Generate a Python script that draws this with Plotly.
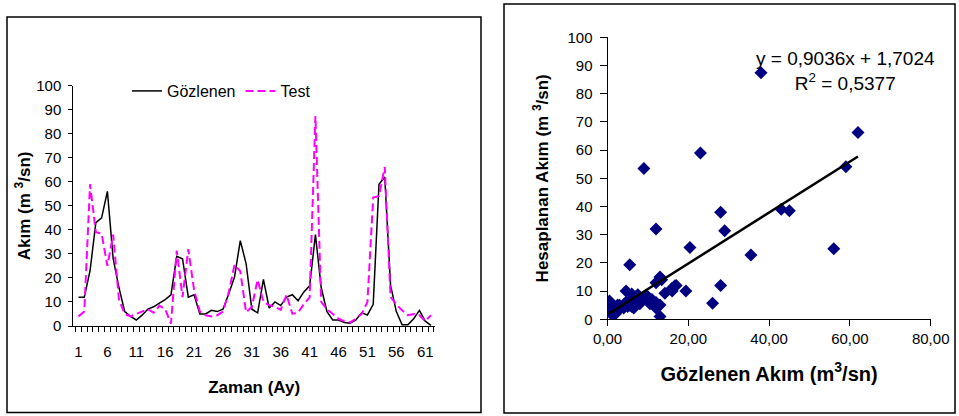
import plotly.graph_objects as go

# ---- data ----
months = list(range(1, 63))
observed = [12, 12, 23, 43, 45, 56, 28, 16, 6, 4,
            2.5, 4.5, 7, 8, 9.5, 11, 13, 29, 28, 12,
            13, 5, 5, 6.5, 6, 7, 13.4, 20.4, 35.5, 26,
            7, 5.5, 19.4, 7.5, 10, 8.5, 12, 13, 10.5, 14.2,
            16.7, 38, 16, 6, 2.5, 2.5, 1.5, 1.2, 2.5, 5.5,
            4.6, 9, 59, 62, 17, 6, 0.5, 0.5, 3, 6.5,
            2, 0.3]
test = [4, 6, 59, 39, 38.5, 25, 38, 11, 5, 4,
        5, 6, 7, 5.5, 8.5, 7, 1, 31.4, 12, 32,
        15, 6, 4.5, 4, 4.5, 6, 14, 25.5, 22.8, 5.7,
        8, 19.3, 10, 8.7, 8, 6.7, 13, 5.1, 5.5, 9.2,
        11.9, 87.4, 10, 7, 5, 3, 2, 1.5, 3, 5,
        10, 53.5, 54.1, 66.2, 12, 9, 6.5, 4.5, 5, 4.5,
        2, 4.5]
trend = [0.9036, 1.7024]  # slope, intercept
left_xticks = [1, 6, 11, 16, 21, 26, 31, 36, 41, 46, 51, 56, 61]
right_xticks = [0, 20, 40, 60, 80]
right_xticklabels = ["0,00", "20,00", "40,00", "60,00", "80,00"]
y_ticks = [0, 10, 20, 30, 40, 50, 60, 70, 80, 90, 100]

W, H = 959, 416
def px(x):
    return x / W
def py(y):
    return 1 - y / H

FONT = "Liberation Sans, Arial, sans-serif"
fig = go.Figure()

fig.add_trace(go.Scatter(x=months, y=observed, mode="lines", name="Gözlenen",
                         line=dict(color="#000000", width=1.5),
                         xaxis="x", yaxis="y"))
fig.add_trace(go.Scatter(x=months, y=test, mode="lines", name="Test",
                         line=dict(color="#FF00FF", width=2, dash="8px,4px"),
                         xaxis="x", yaxis="y"))

fig.add_trace(go.Scatter(x=observed, y=test, mode="markers", showlegend=False,
                         marker=dict(symbol="diamond", size=10, color="#000080"),
                         xaxis="x2", yaxis="y2"))
tx = [min(observed), max(observed)]
ty = [trend[0] * v + trend[1] for v in tx]
fig.add_trace(go.Scatter(x=tx, y=ty, mode="lines", showlegend=False,
                         line=dict(color="#000000", width=2.5),
                         xaxis="x2", yaxis="y2"))

# axes geometry (pixels)
L_x0, L_x1 = 73.3, 435.0
L_ytop, L_ybot = 85.7, 326.0
R_x0, R_x1 = 607.5, 930.7
R_ytop, R_ybot = 37.3, 319.3

# left x range so that x=1 -> 78.5 px, x=62 -> 431 px
scale = (431 - 78.5) / 61
lx_min = 1 - (78.5 - L_x0) / scale
lx_max = 62 + (L_x1 - 431) / scale

tickfont = dict(family=FONT, size=15, color="#000000")
titlefont = dict(family=FONT, size=17, color="#000000")

fig.update_layout(
    width=W, height=H, margin=dict(l=0, r=0, t=0, b=0, autoexpand=False),
    paper_bgcolor="white", plot_bgcolor="white",
    font=dict(family=FONT, color="#000000"),
    xaxis=dict(domain=[px(L_x0), px(L_x1)], range=[lx_min, lx_max], automargin=False,
               tickvals=left_xticks, ticks="", showline=True, linecolor="#000000",
               linewidth=1, showgrid=False, zeroline=False, tickfont=tickfont,
               ticklabelstandoff=12,
               minor=dict(tickvals=[k + 0.5 for k in range(0, 63)], ticks="outside",
                          ticklen=5, tickcolor="#000000", showgrid=False),
               title=dict(text="<b>Zaman (Ay)</b>", font=titlefont, standoff=22)),
    yaxis=dict(domain=[py(L_ybot), py(L_ytop)], range=[0, 100], tickvals=y_ticks,
               automargin=False,
               ticks="outside", ticklen=4, tickcolor="#000000", showline=True,
               linecolor="#000000", linewidth=1, showgrid=False, zeroline=False,
               tickfont=tickfont, ticklabelstandoff=4,
               title=dict(text="<b>Akım (m <sup>3</sup>/sn)</b>", font=titlefont, standoff=1)),
    xaxis2=dict(domain=[px(R_x0), px(R_x1)], range=[0, 80], tickvals=right_xticks,
                automargin=False,
                ticktext=right_xticklabels, ticks="outside", ticklen=6,
                tickcolor="#000000", showline=True, linecolor="#000000", linewidth=1,
                showgrid=False, zeroline=False, tickfont=tickfont, anchor="y2",
                title=dict(text="<b>Gözlenen Akım (m<sup>3</sup>/sn)</b>",
                           font=dict(family=FONT, size=20, color="#000000"), standoff=20)),
    yaxis2=dict(domain=[py(R_ybot), py(R_ytop)], range=[0, 100], tickvals=y_ticks,
                automargin=False,
                ticks="outside", ticklen=7, tickcolor="#000000", showline=True,
                linecolor="#000000", linewidth=1, showgrid=False, zeroline=False,
                tickfont=tickfont, anchor="x2", ticklabelstandoff=4,
                title=dict(text="<b>Hesaplanan Akım (m <sup>3</sup>/sn)</b>",
                           font=titlefont, standoff=14)),
    legend=dict(orientation="h", x=px(127), y=py(91), xanchor="left", yanchor="middle",
                font=dict(family=FONT, size=16, color="#000000"),
                bgcolor="rgba(0,0,0,0)", itemwidth=30),
    showlegend=True,
)

fig.add_annotation(xref="paper", yref="paper", x=px(845), y=py(71),
                   xanchor="center", yanchor="middle",
                   text="y = 0,9036x + 1,7024<br>R<sup>2</sup> = 0,5377",
                   showarrow=False, align="center",
                   font=dict(family=FONT, size=19, color="#000000"))

fig.add_shape(type="rect", xref="paper", yref="paper",
              x0=px(7), x1=px(481), y0=py(412.5), y1=py(17),
              line=dict(color="#000000", width=1.5))
fig.add_shape(type="rect", xref="paper", yref="paper",
              x0=px(504), x1=px(955), y0=py(413), y1=py(4),
              line=dict(color="#000000", width=1.5))

fig.write_html("out.html")
